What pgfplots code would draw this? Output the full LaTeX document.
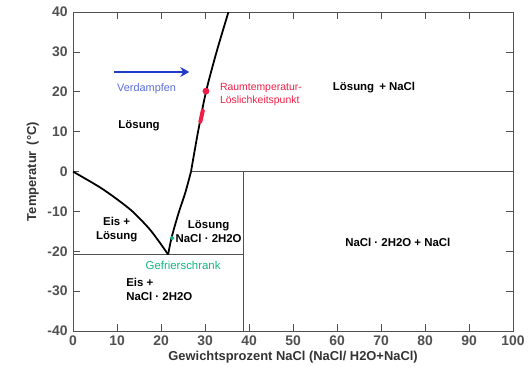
\documentclass[border=0pt]{standalone}
\usepackage{pgfplots}
\usepackage{pgfplotstable}
\pgfplotsset{compat=1.18}
\usetikzlibrary{arrows.meta}
\usepackage{fontspec}
\setmainfont{Liberation Sans}
\definecolor{axgray}{RGB}{80,80,80}
\definecolor{myred}{RGB}{240,30,70}
\definecolor{myblue}{RGB}{30,60,200}
\definecolor{vblue}{RGB}{90,110,220}
\definecolor{mygreen}{RGB}{20,180,130}
\pgfplotstableread{
x y
10 -40
10 -38.3
nan nan
20 -40
20 -38.3
nan nan
30 -40
30 -38.3
nan nan
40 -40
40 -38.3
nan nan
50 -40
50 -38.3
nan nan
60 -40
60 -38.3
nan nan
70 -40
70 -38.3
nan nan
80 -40
80 -38.3
nan nan
90 -40
90 -38.3
nan nan
10 40
10 38.3
nan nan
20 40
20 38.3
nan nan
30 40
30 38.3
nan nan
40 40
40 38.3
nan nan
50 40
50 38.3
nan nan
60 40
60 38.3
nan nan
70 40
70 38.3
nan nan
80 40
80 38.3
nan nan
90 40
90 38.3
nan nan
0 -30
1.5 -30
nan nan
0 -20
1.5 -20
nan nan
0 -10
1.5 -10
nan nan
0 10
1.5 10
nan nan
0 20
1.5 20
nan nan
0 30
1.5 30
nan nan
100 -30
98.5 -30
nan nan
100 -20
98.5 -20
nan nan
100 -10
98.5 -10
nan nan
100 10
98.5 10
nan nan
100 20
98.5 20
nan nan
100 30
98.5 30
}\tickmarks
\begin{document}
\begin{tikzpicture}
\begin{axis}[
  width=443pt, height=321pt, scale only axis,
  xmin=0, xmax=100, ymin=-40, ymax=40,
  xtick={0,10,...,100}, ytick={-40,-30,...,40},
  xtick align=inside, ytick align=inside,
  tickwidth=6pt,
  axis line style={draw=axgray, line width=1pt},
  tick style={draw=axgray, line width=1pt},
  /pgf/number format/assume math mode=true,
  ticklabel style={font=\fontsize{14}{16}\selectfont\bfseries, text=axgray},
  xticklabel style={yshift=-1pt},
  yticklabel style={xshift=-2pt},
  xlabel={Gewichtsprozent NaCl (NaCl/ H2O+NaCl)},
  ylabel={Temperatur \,(°C)},
  xlabel style={font=\fontsize{13}{15}\selectfont\bfseries, text=black!80, yshift=1pt},
  ylabel style={font=\fontsize{13}{15}\selectfont\bfseries, text=black!80, yshift=2pt},
  clip=false,
]
% tick marks
\addplot[axgray, line width=1pt, unbounded coords=jump] table {\tickmarks};
% region lines
\addplot[axgray, line width=1pt] coordinates {(26.8,0) (100,0)};
\addplot[axgray, line width=1pt] coordinates {(38.8,-40) (38.8,0)};
\addplot[axgray, line width=1pt] coordinates {(0,-20.8) (38.8,-20.8)};
% ice curve
\addplot[black, line width=1.8pt, smooth] coordinates {(0,0) (5.9,-3.8) (9.7,-6.7) (13.5,-10) (17.2,-14.2) (19.5,-17.5) (21.6,-20.8)};
% hydrate curve
\addplot[black, line width=1.8pt, smooth] coordinates {(21.6,-20.8) (22.4,-16.5) (24,-10.3) (25.5,-5.3) (26.8,0)};
% NaCl curve
\addplot[black, line width=1.8pt, smooth] coordinates {(26.8,0) (28.4,10) (30.2,20) (32.6,30) (35.3,40)};
% red marks
\addplot[myred, line width=4pt, line cap=round] coordinates {(28.9,12.4) (29.5,15.4)};
\addplot[only marks, mark=*, mark size=3.2pt, myred] coordinates {(30.2,20.2)};
% green mark
\addplot[only marks, mark=*, mark size=2pt, mygreen] coordinates {(22.5,-16.7)};
% arrow
\addplot[myblue, line width=2.6pt, -{Stealth[length=9pt,width=10pt]}] coordinates {(9.3,25) (26.4,25)};
% labels
\node[font=\fontsize{11}{12.5}\selectfont, text=vblue] at (axis cs:16.7,20.9) {Verdampfen};
\node[font=\fontsize{11.5}{13}\selectfont\bfseries] at (axis cs:15,11.5) {Lösung};
\node[font=\fontsize{10.5}{13}\selectfont, text=myred, anchor=west, align=left] at (axis cs:32.6,19.3) {Raumtemperatur-\\Löslichkeitspunkt};
\node[font=\fontsize{11.5}{13}\selectfont\bfseries] at (axis cs:68.4,21.2) {Lösung \,+ NaCl};
\node[font=\fontsize{11.5}{13}\selectfont\bfseries] at (axis cs:73.8,-17.7) {NaCl · 2H2O + NaCl};
\node[font=\fontsize{11.5}{14}\selectfont\bfseries, align=center] at (axis cs:9.9,-14.6) {Eis +\\Lösung};
\node[font=\fontsize{11.5}{14}\selectfont\bfseries, align=center] at (axis cs:30.8,-15) {Lösung\\NaCl · 2H2O};
\node[font=\fontsize{11.5}{13}\selectfont, text=mygreen] at (axis cs:25,-23.6) {Gefrierschrank};
\node[font=\fontsize{11.5}{14}\selectfont\bfseries, align=left, anchor=west] at (axis cs:11.3,-29.6) {Eis +\\NaCl · 2H2O};
\end{axis}
\path ([xshift=-23.5pt]current axis.outer west) ([yshift=4pt]current axis.outer north);
\end{tikzpicture}
\end{document}
